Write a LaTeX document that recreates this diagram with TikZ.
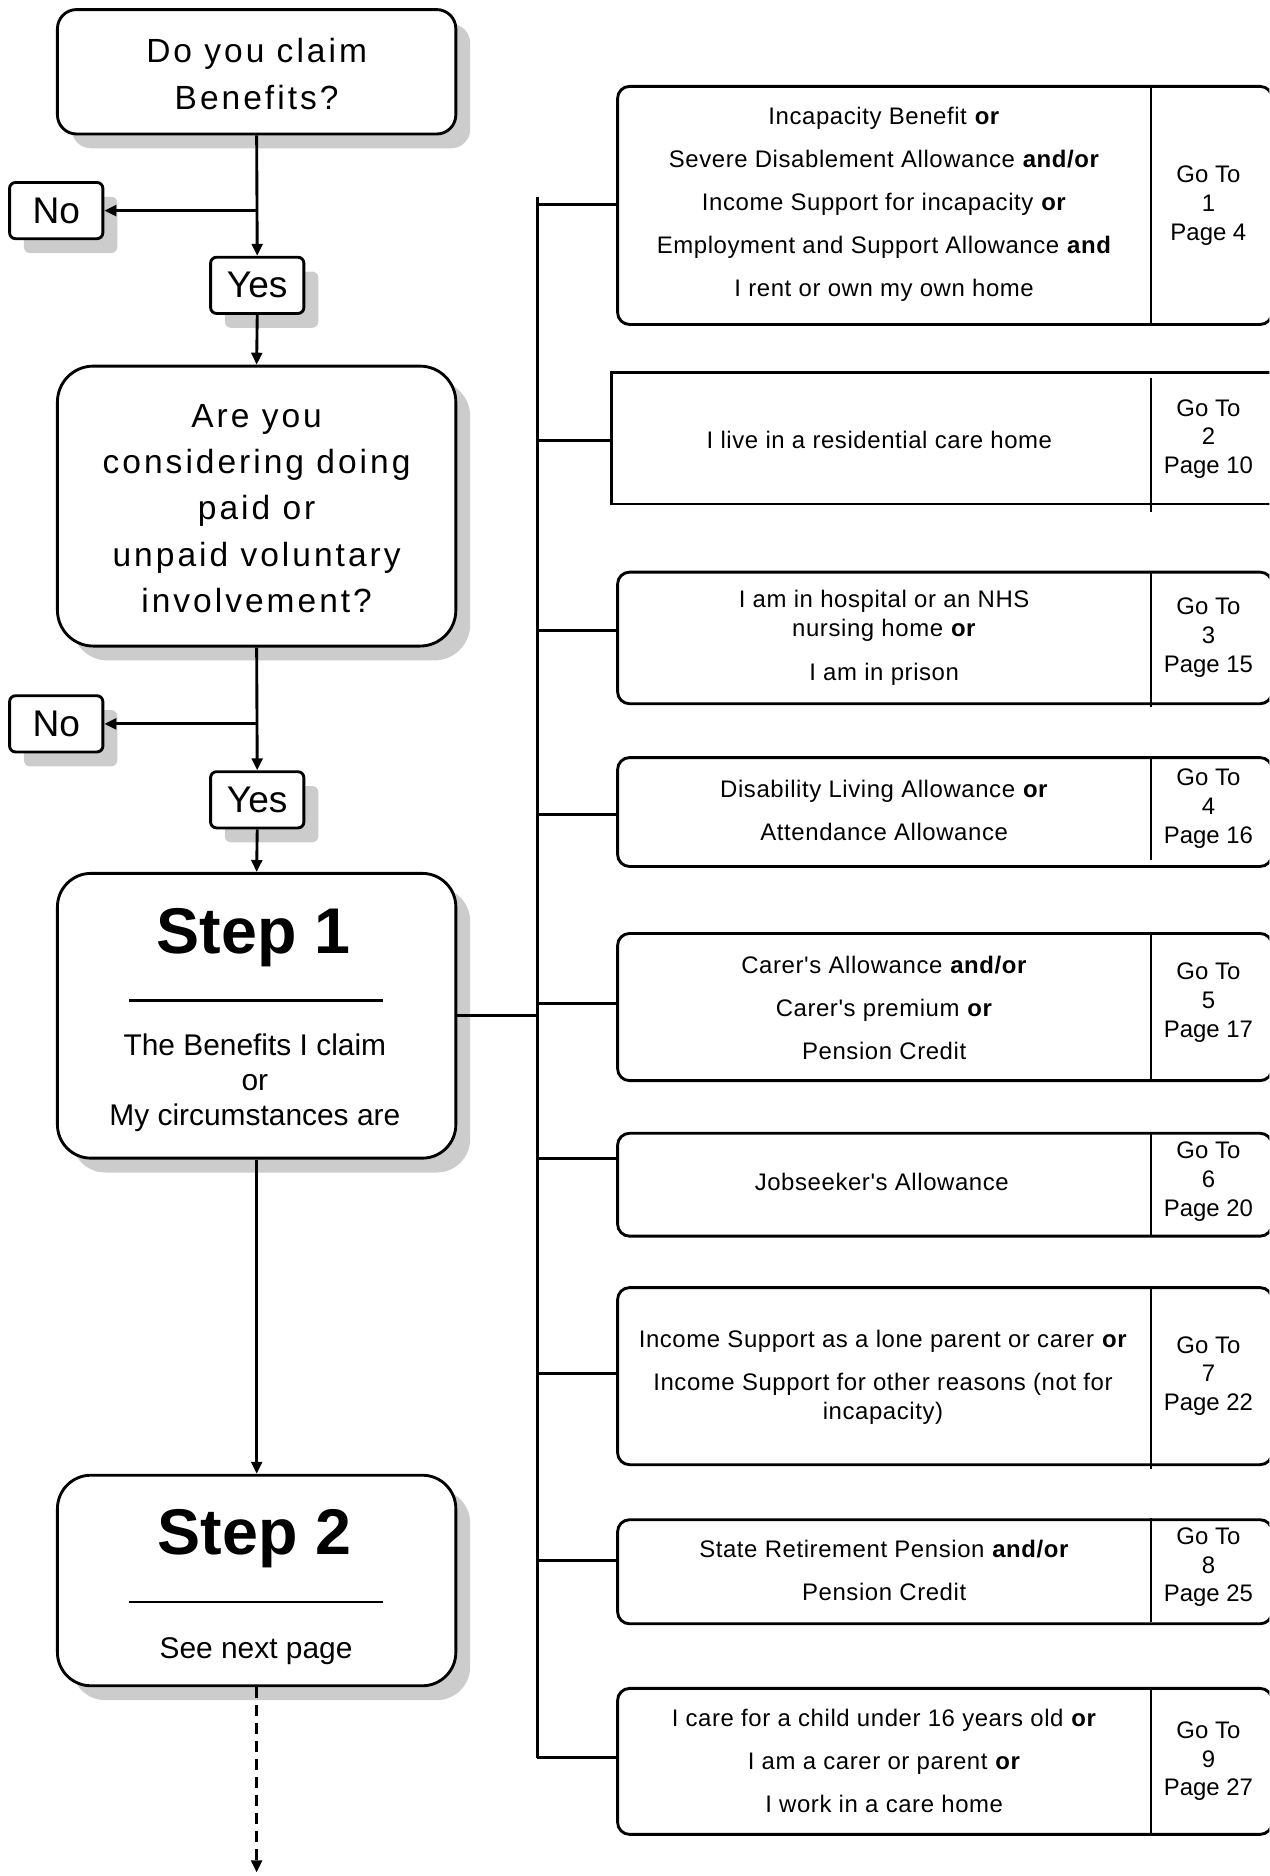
\documentclass[tikz,border=0pt]{standalone}
\usepackage{fontspec}
\setmainfont{Liberation Sans}
\newfontfamily\qfont[LetterSpace=9]{Liberation Sans}
\newfontfamily\rfont[LetterSpace=2.5]{Liberation Sans}
\usetikzlibrary{arrows.meta,shadows}
\definecolor{shadowgray}{RGB}{204,204,204}
\begin{document}
\begin{tikzpicture}[x=1pt,y=-1pt]
\tikzset{
  lbox/.style={draw, line width=2.4pt, fill=white, rounded corners=#1, inner sep=0pt,
    general shadow={fill=shadowgray, shadow xshift=12pt, shadow yshift=-12pt}},
  ynbox/.style={lbox=5pt, minimum width=78pt, minimum height=47pt, font=\fontsize{31}{36}\selectfont},
  rbox/.style={draw, line width=2.4pt, rounded corners=10pt, inner sep=0pt, anchor=north west},
  divider/.style={line width=2.4pt},
  conn/.style={line width=2.4pt},
  arr/.style={conn, -{Triangle[length=10pt,width=9pt]}},
  txt/.style={inner sep=0pt, align=center},
  qtxt/.style={txt, font=\qfont\fontsize{28}{38.8}\selectfont},
  rtxt/.style={txt, font=\rfont\fontsize{20}{36}\selectfont},
  rtxtb/.style={txt, font=\rfont\fontsize{20}{24.5}\selectfont},
  gtxt/.style={txt, font=\fontsize{20}{24}\selectfont},
}
\clip (0,0) rectangle (1061,1568);
\useasboundingbox (0,0) rectangle (1061,1568);

% ---------- left column ----------
\node[lbox=16pt, minimum width=333pt, minimum height=104pt] (B1) at (214.5,60) {};
\node[qtxt] (B1t) at (214.5,62) {Do you claim\\Benefits?};

\node[ynbox] (N1) at (47,176) {No};
\node[ynbox] (Y1) at (215,238.5) {Yes};

\node[lbox=30pt, minimum width=333pt, minimum height=234pt] (B2) at (214.5,423) {};
\node[qtxt] (B2t) at (214.5,425) {Are you\\considering doing\\paid or\\unpaid voluntary\\involvement?};

\node[ynbox] (N2) at (47,605) {No};
\node[ynbox] (Y2) at (215,668.5) {Yes};

\node[lbox=28pt, minimum width=333pt, minimum height=238pt] (S1) at (214.5,849) {};
\node[txt, anchor=base, font=\bfseries\fontsize{54}{60}\selectfont] (S1h) at (212,797) {Step 1};
\draw[line width=2.2pt] (108,836) -- (320,836);
\node[txt, font=\fontsize{25}{29.5}\selectfont] (S1t) at (213,905) {The Benefits I claim\\or\\My circumstances are};

\node[lbox=28pt, minimum width=333pt, minimum height=176pt] (S2) at (214.5,1321) {};
\node[txt, anchor=base, font=\bfseries\fontsize{54}{60}\selectfont] (S2h) at (213,1299) {Step 2};
\draw[line width=2.2pt] (108,1339) -- (320,1339);
\node[txt, anchor=base, font=\fontsize{25}{29.5}\selectfont] (S2t) at (214,1386) {See next page};

\coordinate (endpt) at (214.5,1565);

\draw[arr] (B1.south) -- (Y1.north);
\draw[arr] (B1.south |- N1.east) -- (N1.east);
\draw[arr] (Y1.south) -- (B2.north);
\draw[arr] (B2.south) -- (Y2.north);
\draw[arr] (B2.south |- N2.east) -- (N2.east);
\draw[arr] (Y2.south) -- (S1.north);
\draw[arr] (S1.south) -- (S2.north);
\draw[arr, dash pattern=on 9pt off 6pt] (S2.south) -- (endpt);

% ---------- trunk ----------
\coordinate (ttop) at (449,165);
\coordinate (b1) at (449,171);
\coordinate (b2) at (449,368.5);
\coordinate (b3) at (449,527);
\coordinate (b4) at (449,681);
\coordinate (b5) at (449,839);
\coordinate (b6) at (449,968);
\coordinate (b7) at (449,1148);
\coordinate (b8) at (449,1304);
\coordinate (b9) at (449,1469);
\draw[conn] (ttop) -- (b9);
\draw[conn] (S1.east) -- (S1.east -| b1);

% ---------- right boxes ----------
\node[rbox, minimum width=547pt, minimum height=199pt] (R1) at (515,71) {};
\node[rbox, rounded corners=0pt, minimum width=552pt, minimum height=110pt] (R2) at (510,310) {};
\node[rbox, minimum width=547pt, minimum height=110pt] (R3) at (515,477) {};
\node[rbox, minimum width=547pt, minimum height=91pt] (R4) at (515,632) {};
\node[rbox, minimum width=547pt, minimum height=123pt] (R5) at (515,779) {};
\node[rbox, minimum width=547pt, minimum height=86pt] (R6) at (515,946) {};
\node[rbox, minimum width=547pt, minimum height=148pt] (R7) at (515,1075) {};
\node[rbox, minimum width=547pt, minimum height=87pt] (R8) at (515,1269) {};
\node[rbox, minimum width=547pt, minimum height=122pt] (R9) at (515,1410) {};

\draw[conn] (b1) -- (b1 -| R1.west);
\draw[conn] (b2) -- (b2 -| R2.west);
\draw[conn] (b3) -- (b3 -| R3.west);
\draw[conn] (b4) -- (b4 -| R4.west);
\draw[conn] (b5) -- (b5 -| R5.west);
\draw[conn] (b6) -- (b6 -| R6.west);
\draw[conn] (b7) -- (b7 -| R7.west);
\draw[conn] (b8) -- (b8 -| R8.west);
\draw[conn] (b9) -- (b9 -| R9.west);

\draw[divider] (962,71) -- (962,270);
\draw[divider] (962,316) -- (962,428);
\draw[divider] (962,477) -- (962,591);
\draw[divider] (962,632) -- (962,719);
\draw[divider] (962,779) -- (962,902);
\draw[divider] (962,946) -- (962,1032);
\draw[divider] (962,1075) -- (962,1228);
\draw[divider] (962,1269) -- (962,1356);
\draw[divider] (962,1410) -- (962,1532);

\node[rtxt] (R1t) at (739,170.5) {Incapacity Benefit \textbf{or}\\Severe Disablement Allowance \textbf{and/or}\\Income Support for incapacity \textbf{or}\\Employment and Support Allowance \textbf{and}\\I rent or own my own home};
\node[rtxt] (R2t) at (735,368) {I live in a residential care home};
\node[rtxtb] (R3t) at (739,533) {I am in hospital or an NHS\\nursing home \textbf{or}\\[12pt]I am in prison};
\node[rtxt] (R4t) at (739,677) {Disability Living Allowance \textbf{or}\\Attendance Allowance};
\node[rtxt] (R5t) at (739,842.5) {Carer's Allowance \textbf{and/or}\\Carer's premium \textbf{or}\\Pension Credit};
\node[rtxt] (R6t) at (737,988) {Jobseeker's Allowance};
\node[rtxtb] (R7t) at (738,1151) {Income Support as a lone parent or carer \textbf{or}\\[11.5pt]Income Support for other reasons (not for\\incapacity)};
\node[rtxt] (R8t) at (739,1312.5) {State Retirement Pension \textbf{and/or}\\Pension Credit};
\node[rtxt] (R9t) at (739,1471.5) {I care for a child under 16 years old \textbf{or}\\I am a carer or parent \textbf{or}\\I work in a care home};

\node[gtxt] (R1g) at (1010,172) {Go To\\1\\Page 4};
\node[gtxt] (R2g) at (1010,367) {Go To\\2\\Page 10};
\node[gtxt] (R3g) at (1010,533) {Go To\\3\\Page 15};
\node[gtxt] (R4g) at (1010,676) {Go To\\4\\Page 16};
\node[gtxt] (R5g) at (1010,838) {Go To\\5\\Page 17};
\node[gtxt] (R6g) at (1010,987.5) {Go To\\6\\Page 20};
\node[gtxt] (R7g) at (1010,1150) {Go To\\7\\Page 22};
\node[gtxt] (R8g) at (1010,1310) {Go To\\8\\Page 25};
\node[gtxt] (R9g) at (1010,1472) {Go To\\9\\Page 27};
\end{tikzpicture}
\end{document}
